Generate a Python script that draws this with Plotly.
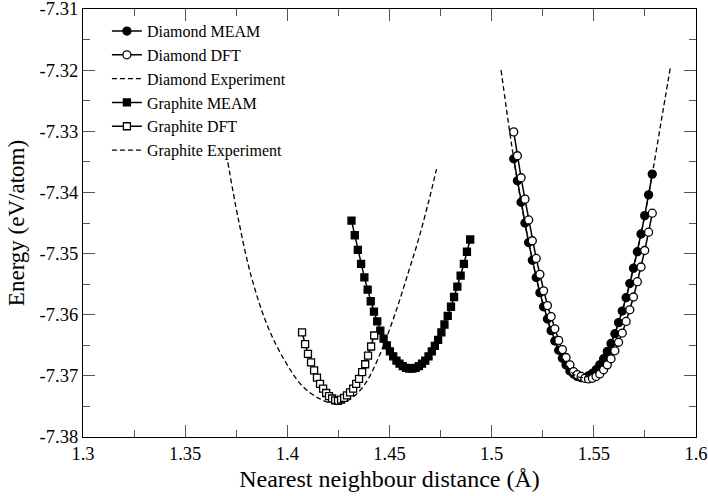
import plotly.graph_objects as go

# diamond curves share one grid of nearest neighbour distances
diamond_x = [1.5108, 1.5126, 1.5144, 1.5163, 1.5181, 1.5199, 1.5218, 1.5236, 1.5254, 1.5273,
             1.5291, 1.5309, 1.5328, 1.5346, 1.5364, 1.5383, 1.5401, 1.5419, 1.5438, 1.5456,
             1.5474, 1.5493, 1.5511, 1.5529, 1.5548, 1.5566, 1.5584, 1.5603, 1.5621, 1.5639,
             1.5658, 1.5676, 1.5694, 1.5713, 1.5731, 1.5749, 1.5768, 1.5786]
diamond_meam = [-7.3345, -7.3381, -7.3416, -7.3450, -7.3482, -7.3511, -7.3539, -7.3564, -7.3587, -7.3607,
                -7.3626, -7.3643, -7.3658, -7.3671, -7.3682, -7.3692, -7.3697, -7.3701, -7.3703, -7.3703,
                -7.3700, -7.3696, -7.3690, -7.3682, -7.3672, -7.3660, -7.3647, -7.3631, -7.3613, -7.3594,
                -7.3572, -7.3549, -7.3524, -7.3497, -7.3468, -7.3438, -7.3404, -7.3370]
diamond_dft = [-7.3301, -7.3340, -7.3376, -7.3411, -7.3445, -7.3479, -7.3508, -7.3534, -7.3561, -7.3585,
               -7.3603, -7.3623, -7.3642, -7.3657, -7.3670, -7.3682, -7.3693, -7.3698, -7.3701, -7.3704,
               -7.3705, -7.3704, -7.3701, -7.3697, -7.3690, -7.3682, -7.3672, -7.3659, -7.3645, -7.3630,
               -7.3611, -7.3592, -7.3571, -7.3546, -7.3522, -7.3495, -7.3465, -7.3434]

diamond_exp_x = [1.5046, 1.5070, 1.5090, 1.5108, 1.5150, 1.5200, 1.5250, 1.5300, 1.5350, 1.5400,
                 1.5445, 1.5500, 1.5550, 1.5600, 1.5650, 1.5700, 1.5750, 1.5786, 1.5830, 1.5874]
diamond_exp = [-7.3200, -7.3258, -7.3305, -7.3345, -7.3427, -7.3512, -7.3582, -7.3635, -7.3673, -7.3697,
               -7.3703, -7.3694, -7.3671, -7.3633, -7.3582, -7.3516, -7.3436, -7.3370, -7.3283, -7.3197]

graphite_meam_x = [1.4314, 1.4330, 1.4345, 1.4361, 1.4377, 1.4393, 1.4408, 1.4424, 1.4440, 1.4455,
                   1.4471, 1.4487, 1.4502, 1.4518, 1.4534, 1.4549, 1.4565, 1.4581, 1.4597, 1.4612,
                   1.4628, 1.4644, 1.4659, 1.4675, 1.4691, 1.4707, 1.4722, 1.4738, 1.4754, 1.4769,
                   1.4785, 1.4801, 1.4816, 1.4832, 1.4848, 1.4864, 1.4879, 1.4895]
graphite_meam = [-7.3446, -7.3470, -7.3494, -7.3517, -7.3539, -7.3559, -7.3578, -7.3595, -7.3611, -7.3626,
                 -7.3639, -7.3650, -7.3660, -7.3668, -7.3675, -7.3680, -7.3684, -7.3687, -7.3688, -7.3688,
                 -7.3687, -7.3684, -7.3680, -7.3675, -7.3668, -7.3660, -7.3651, -7.3641, -7.3629, -7.3616,
                 -7.3602, -7.3587, -7.3571, -7.3554, -7.3536, -7.3517, -7.3497, -7.3477]

graphite_dft_x = [1.4072, 1.4087, 1.4101, 1.4116, 1.4131, 1.4145, 1.4160, 1.4175, 1.4190, 1.4204,
                  1.4219, 1.4234, 1.4248, 1.4263, 1.4278, 1.4292, 1.4307, 1.4322, 1.4337, 1.4351,
                  1.4366, 1.4381, 1.4395, 1.4410, 1.4425]
graphite_dft = [-7.3629, -7.3648, -7.3664, -7.3678, -7.3691, -7.3703, -7.3713, -7.3721, -7.3728, -7.3733,
                -7.3737, -7.3740, -7.3741, -7.3739, -7.3736, -7.3732, -7.3727, -7.3721, -7.3713, -7.3705,
                -7.3694, -7.3681, -7.3667, -7.3652, -7.3634]

graphite_exp_x = [1.3709, 1.3758, 1.3824, 1.3905, 1.3987, 1.4069, 1.4150, 1.4225, 1.4297, 1.4338,
                  1.4379, 1.4412, 1.4444, 1.4477, 1.4534, 1.4592, 1.4641, 1.4693, 1.4730]
graphite_exp = [-7.3351, -7.3440, -7.3538, -7.3620, -7.3675, -7.3715, -7.3736, -7.3745, -7.3740, -7.3730,
                -7.3714, -7.3695, -7.3672, -7.3645, -7.3592, -7.3531, -7.3478, -7.3413, -7.3362]

x_ticks = [1.3, 1.35, 1.4, 1.45, 1.5, 1.55, 1.6]
x_labels = ['1.3', '1.35', '1.4', '1.45', '1.5', '1.55', '1.6']
y_ticks = [-7.38, -7.37, -7.36, -7.35, -7.34, -7.33, -7.32, -7.31]
y_labels = ['-7.38', '-7.37', '-7.36', '-7.35', '-7.34', '-7.33', '-7.32', '-7.31']

FONT = "'Liberation Serif', 'Times New Roman', 'DejaVu Serif', serif"
line = dict(color='black', width=1.5)
dash = dict(color='black', width=1.3, dash='5px,3px')


def marker(symbol, size):
    return dict(symbol=symbol, size=size, color='black', line=dict(color='black', width=1.3))


def open_marker(symbol, size):
    return dict(symbol=symbol, size=size, color='white', line=dict(color='black', width=1.3))


fig = go.Figure()
fig.add_trace(go.Scatter(x=diamond_x, y=diamond_meam, name='Diamond MEAM', mode='lines+markers',
                         line=line, marker=marker('circle', 8)))
fig.add_trace(go.Scatter(x=diamond_x, y=diamond_dft, name='Diamond DFT', mode='lines+markers',
                         line=line, marker=open_marker('circle', 8)))
fig.add_trace(go.Scatter(x=diamond_exp_x, y=diamond_exp, name='Diamond Experiment', mode='lines',
                         line=dash, line_shape='spline'))
fig.add_trace(go.Scatter(x=graphite_meam_x, y=graphite_meam, name='Graphite MEAM', mode='lines+markers',
                         line=line, marker=marker('square', 7)))
fig.add_trace(go.Scatter(x=graphite_dft_x, y=graphite_dft, name='Graphite DFT', mode='lines+markers',
                         line=line, marker=open_marker('square', 7)))
fig.add_trace(go.Scatter(x=graphite_exp_x, y=graphite_exp, name='Graphite Experiment', mode='lines',
                         line=dash, line_shape='spline'))

axis = dict(showline=True, linecolor='black', linewidth=1.3, mirror='allticks', ticks='inside',
            ticklen=12, tickwidth=1.3, tickcolor='#555', showgrid=False, zeroline=False,
            automargin=False, ticklabeloverflow='allow',
            tickfont=dict(family=FONT, size=18.5, color='black'))

fig.update_xaxes(axis, range=[1.3, 1.6], tickvals=x_ticks, ticktext=x_labels,
                 minor=dict(dtick=0.025, ticklen=7, tickwidth=1.3, tickcolor='#555', ticks='inside'),
                 title=dict(text='Nearest neighbour distance (Å)', font=dict(family=FONT, size=24, color='black'),
                            standoff=6))
fig.update_yaxes(axis, range=[-7.38, -7.31], tickvals=y_ticks, ticktext=y_labels,
                 minor=dict(dtick=0.005, tick0=-7.38, ticklen=7, tickwidth=1.3, tickcolor='#555', ticks='inside'),
                 title=dict(text='Energy (eV/atom)', font=dict(family=FONT, size=23, color='black'),
                            standoff=8))

fig.update_layout(
    width=708, height=496,
    margin=dict(l=83, r=12, t=9, b=59),
    paper_bgcolor='white', plot_bgcolor='white',
    font=dict(family=FONT, color='black'),
    legend=dict(x=0.039, y=0.988, xanchor='left', yanchor='top', bgcolor='rgba(0,0,0,0)',
                font=dict(family=FONT, size=16, color='black'), tracegroupgap=0),
)

fig.write_html("out.html", config={'displayModeBar': False},
               post_script="document.body.style.margin = '0';")
